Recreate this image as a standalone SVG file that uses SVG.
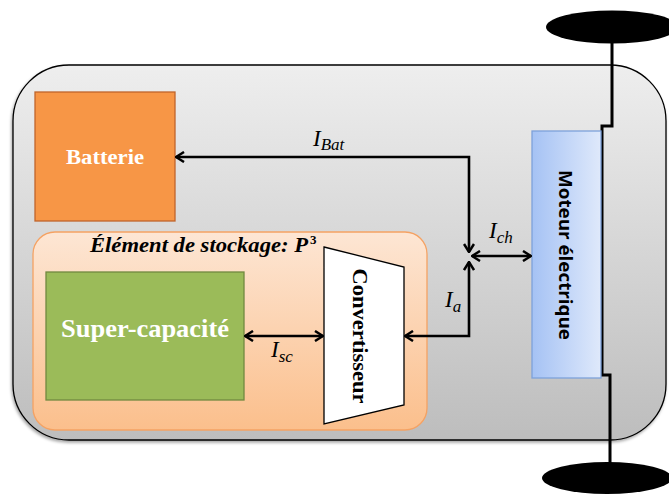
<svg xmlns="http://www.w3.org/2000/svg" width="669" height="494" viewBox="0 0 669 494">
<defs>
<linearGradient id="gBody" x1="0" y1="0" x2="0" y2="1">
<stop offset="0" stop-color="#EEEEEE"/><stop offset="1" stop-color="#BDBDBD"/>
</linearGradient>
<linearGradient id="gStore" x1="0" y1="0" x2="0" y2="1">
<stop offset="0" stop-color="#FDE6D4"/><stop offset="1" stop-color="#FBBF8C"/>
</linearGradient>
<linearGradient id="gMotor" x1="0" y1="0" x2="1" y2="0">
<stop offset="0" stop-color="#A5C2F4"/><stop offset="1" stop-color="#DFE9FB"/>
</linearGradient>
<filter id="sh" x="-5%" y="-5%" width="110%" height="115%">
<feDropShadow dx="-1" dy="2" stdDeviation="1.5" flood-color="#000" flood-opacity="0.35"/>
</filter>
<marker id="ah" viewBox="0 0 10 12" refX="9" refY="6" markerWidth="10" markerHeight="12" markerUnits="userSpaceOnUse" orient="auto-start-reverse">
<path d="M1,1 L9,6 L1,11" fill="none" stroke="#000" stroke-width="2.5"/>
</marker>
</defs>
<style>
.wire{fill:none;stroke:#000;stroke-width:2.6;marker-end:url(#ah);marker-start:url(#ah)}
.axle{fill:none;stroke:#000;stroke-width:3}
.lbl{font-family:"Liberation Serif",serif;font-style:italic;font-size:23px;fill:#000}
.sub{font-size:17px}
.wtxt{font-family:"Liberation Serif",serif;font-weight:bold;fill:#fff}
</style>

<g id="body">
<rect x="13" y="65" width="653" height="375" rx="56" ry="56" fill="url(#gBody)" stroke="#000" stroke-width="1.3" filter="url(#sh)"/>
</g>

<g id="wheels">
<ellipse cx="612" cy="27" rx="66" ry="16.5" fill="#000"/>
<ellipse cx="607" cy="478" rx="65" ry="16" fill="#000"/>
<path class="axle" d="M612,40 L612,126 L602,126 L602,375 L610,375 L610,465"/>
</g>

<g id="batterie">
<rect x="35" y="92" width="140" height="129" fill="#F79646" stroke="#C0652B" stroke-width="1.3"/>
<text class="wtxt" x="105" y="164" text-anchor="middle" font-size="22" textLength="78" lengthAdjust="spacingAndGlyphs">Batterie</text>
</g>

<g id="stockage">
<rect x="33" y="232" width="394" height="198" rx="22" ry="22" fill="url(#gStore)" stroke="#F5A263" stroke-width="1.3"/>
<text x="90" y="252" font-family="Liberation Serif,serif" font-style="italic" font-weight="bold" font-size="20" fill="#000" textLength="218" lengthAdjust="spacingAndGlyphs">Élément de stockage: P</text>
<text x="310" y="244" font-family="Liberation Serif,serif" font-weight="bold" font-size="13" fill="#000">3</text>
</g>

<g id="supercap">
<rect x="46" y="272" width="198" height="128" fill="#9BBB59" stroke="#71893F" stroke-width="1.3"/>
<text class="wtxt" x="145" y="337" text-anchor="middle" font-size="26" textLength="168" lengthAdjust="spacingAndGlyphs">Super-capacité</text>
</g>

<g id="convertisseur">
<polygon points="324,247 404,267 404,405 324,424" fill="#fff" stroke="#000" stroke-width="1.3"/>
<text transform="translate(360,336) rotate(90)" x="0" y="0" text-anchor="middle" dominant-baseline="central" font-family="Liberation Serif,serif" font-weight="bold" font-size="21" fill="#000" textLength="135" lengthAdjust="spacingAndGlyphs">Convertisseur</text>
</g>

<g id="moteur">
<rect x="532" y="131" width="69" height="247" fill="url(#gMotor)" stroke="#7DA1DA" stroke-width="1.3"/>
<text transform="translate(565,255) rotate(90)" x="0" y="0" text-anchor="middle" dominant-baseline="central" font-family="Open Sans,Liberation Sans,sans-serif" font-weight="bold" font-size="17" fill="#000" textLength="170" lengthAdjust="spacingAndGlyphs">Moteur électrique</text>
</g>

<g id="connectors">
<path class="wire" d="M469,252 L469,157 L176,157"/>
<path class="wire" d="M405,336 L469,336 L469,262"/>
<path class="wire" d="M472,256 L531,256"/>
<path class="wire" d="M245,336 L323,336"/>
</g>

<g id="labels">
<text class="lbl" x="313" y="146">I<tspan class="sub" dy="4">Bat</tspan></text>
<text class="lbl" x="489" y="238">I<tspan class="sub" dy="5">ch</tspan></text>
<text class="lbl" x="445" y="307">I<tspan class="sub" dy="5">a</tspan></text>
<text class="lbl" x="271" y="357">I<tspan class="sub" dy="5">sc</tspan></text>
</g>
</svg>
